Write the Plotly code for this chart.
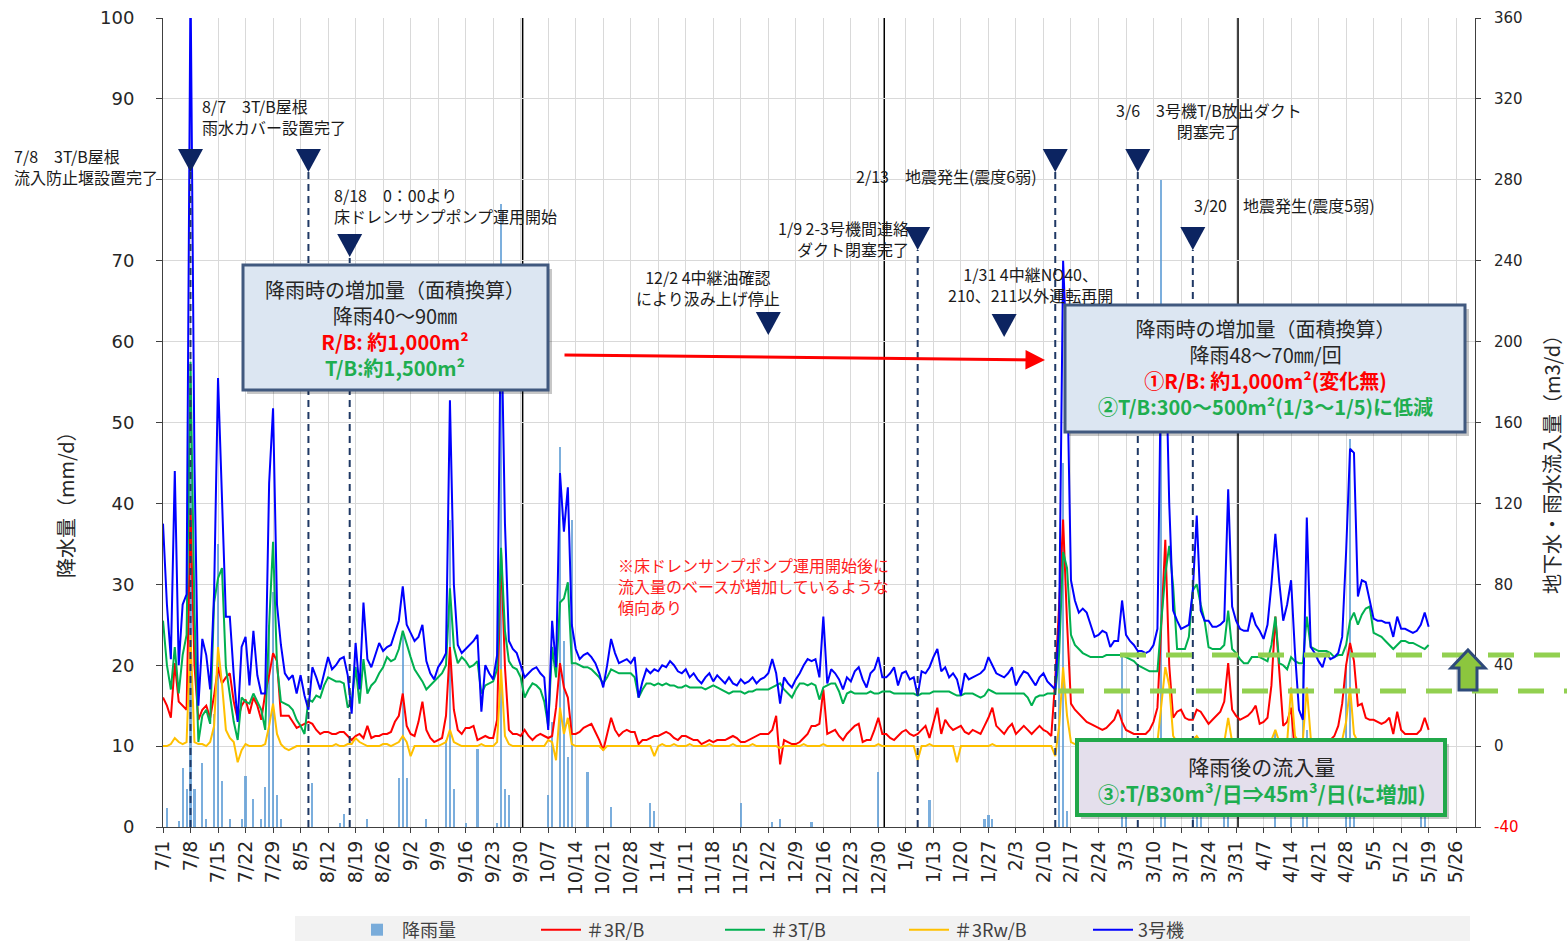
import pandas as pd
import plotly.graph_objects as go

START = "2020-07-01"

# ---------------- data (daily, 2020-07-01 .. 2021-05-19), m3/d ----------------
unit3 = [
    # Jul
    110, 70, 43, 136, 40, 70, 75, 380, 140, 20, 53, 45, 28, 76, 182, 125, 64, 64, 35, 12, 49, 54, 30, 57, 35, 26, 26, 130, 167, 70, 50,
    # Aug
    36, 33, 35, 26, 35, 25, 18, 39, 34, 28, 36, 44, 38, 40, 43, 44, 35, 16, 51, 28, 71, 43, 39, 45, 51, 47, 49, 50, 56, 62, 79,
    # Sep
    60, 56, 52, 54, 60, 42, 36, 33, 39, 42, 46, 171, 80, 50, 46, 48, 50, 52, 55, 17, 40, 36, 33, 45, 220, 110, 52, 48, 46, 40,
    # Oct
    34, 36, 38, 39, 36, 34, 8, 62, 39, 135, 106, 128, 60, 48, 43, 45, 46, 44, 41, 36, 29, 40, 53, 46, 41, 42, 43, 41, 44, 24, 32,
    # Nov
    38, 36, 38, 37, 40, 39, 42, 40, 37, 36, 38, 34, 36, 33, 31, 34, 36, 32, 35, 33, 31, 34, 31, 30, 33, 31, 32, 34, 31, 33,
    # Dec
    34, 36, 43, 36, 21, 34, 31, 29, 33, 36, 40, 43, 42, 43, 34, 64, 31, 38, 36, 33, 28, 34, 32, 37, 39, 33, 29, 36, 38, 44, 34,
    # Jan
    34, 36, 39, 30, 36, 37, 33, 34, 25, 37, 36, 39, 44, 48, 37, 39, 34, 36, 33, 25, 36, 33, 34, 35, 36, 38, 44, 40, 36, 35, 34,
    # Feb
    36, 39, 30, 34, 37, 36, 33, 30, 34, 36, 32, 30, 28, 62, 240, 190, 82, 72, 66, 68, 66, 60, 54, 55, 57, 56, 49, 52,
    # Mar
    52, 72, 55, 52, 50, 47, 47, 46, 47, 50, 58, 200, 205, 120, 67, 62, 58, 59, 60, 77, 114, 67, 62, 62, 59, 59, 60, 62, 127, 69, 62,
    # Apr
    58, 57, 57, 66, 60, 57, 53, 60, 80, 105, 81, 62, 70, 82, 46, 18, 13, 113, 49, 46, 42, 39, 46, 43, 44, 46, 54, 96, 147, 145,
    # May
    74, 82, 81, 72, 63, 62, 62, 61, 61, 54, 64, 58, 58, 57, 56, 57, 60, 66, 59,
]

tb = [
    62, 40, 28, 49, 26, 45, 55, 190, 66, 2, 15, 18, 11, 71, 83, 88, 39, 26, 12, 3, 24, 22, 21, 26, 22, 18, 8, 60, 101, 40, 22,
    21, 20, 18, 13, 10, 6, 23, 22, 25, 24, 30, 34, 33, 32, 32, 31, 19, 22, 39, 21, 43, 26, 30, 32, 36, 39, 44, 42, 43, 48, 57,
    50, 44, 38, 35, 32, 28, 30, 32, 34, 36, 40, 78, 49, 41, 44, 42, 39, 40, 42, 26, 30, 31, 32, 38, 98, 57, 42, 39, 38, 34,
    24, 28, 31, 30, 28, 22, 10, 49, 34, 71, 73, 81, 41, 41, 40, 39, 39, 38, 36, 34, 31, 34, 38, 37, 36, 36, 36, 36, 34, 24, 28,
    31, 31, 30, 31, 30, 31, 30, 30, 29, 29, 30, 29, 29, 29, 29, 28, 29, 30, 29, 28, 27, 26, 27, 27, 27, 26, 27, 27, 28, 28,
    28, 28, 29, 30, 31, 28, 26, 24, 28, 31, 31, 30, 31, 30, 23, 29, 30, 31, 31, 27, 21, 26, 27, 26, 26, 26, 26, 27, 26, 26, 27,
    27, 27, 26, 26, 26, 26, 26, 26, 25, 26, 26, 26, 27, 27, 27, 27, 27, 26, 25, 25, 26, 26, 26, 25, 24, 25, 28, 27, 26, 26, 26,
    26, 26, 26, 26, 26, 24, 20, 24, 25, 25, 26, 26, 26, 46, 96, 88, 55, 50, 48, 46, 45, 44, 44, 44, 44, 45, 45, 45,
    45, 45, 44, 43, 42, 40, 39, 38, 37, 37, 37, 62, 85, 99, 79, 48, 48, 48, 54, 77, 80, 70, 62, 49, 48, 48, 48, 50, 67, 48, 46,
    43, 41, 41, 44, 44, 44, 43, 42, 50, 64, 41, 40, 38, 44, 42, 41, 41, 64, 49, 48, 47, 47, 47, 46, 44, 45, 45, 50, 62, 66,
    60, 65, 68, 69, 56, 55, 54, 52, 50, 48, 50, 52, 52, 51, 51, 50, 49, 48, 50,
]

rb = [
    24, 20, 14, 41, 22, 20, 18, 117, 40, 13, 18, 20, 14, 25, 39, 31, 34, 36, 22, 13, 20, 23, 16, 24, 20, 13, 26, 35, 46, 42, 15,
    15, 15, 12, 9, 10, 11, 12, 11, 8, 6, 7, 7, 6, 6, 7, 7, 5, 3, 5, 6, 4, 10, 4, 5, 5, 6, 6, 7, 12, 15, 26,
    10, 6, 5, 12, 22, 8, 4, 2, 3, 4, 15, 49, 18, 8, 6, 9, 9, 10, 3, 4, 5, 4, 4, 13, 96, 39, 8, 6, 6, 5,
    8, 5, 3, 5, 6, 5, 4, 5, 19, 41, 29, 24, 6, 6, 7, 9, 10, 11, 7, 3, -2, 6, 14, 8, 5, 7, 8, 7, 7, 1, 3,
    3, 4, 5, 5, 6, 7, 6, 4, 3, 5, 5, 4, 3, 3, 1, 2, 3, 2, 3, 3, 3, 4, 5, 4, 2, 2, 3, 4, 5, 6,
    6, 6, 8, 15, -9, 3, 2, 1, 1, 2, 4, 6, 10, 10, 11, 28, 6, 7, 8, 5, 3, 6, 8, 10, 11, 2, 3, 3, 8, 14, 6,
    6, 4, 3, 5, 7, 8, 6, 5, 6, 8, 10, 4, 12, 19, 6, 13, 10, 8, 9, 10, 7, 6, 8, 7, 6, 10, 14, 19, 10, 8, 6,
    9, 11, 6, 8, 10, 8, 6, 8, 10, 8, 7, 5, 33, 70, 112, 61, 21, 18, 16, 14, 12, 11, 10, 9, 8, 9, 11, 13,
    18, 12, 8, 7, 6, 6, 6, 6, 8, 12, 19, 60, 102, 40, 14, 17, 18, 14, 13, 13, 18, 17, 14, 11, 13, 15, 17, 22, 41, 18, 15,
    13, 14, 15, 17, 20, 11, 12, 14, 30, 64, 37, 10, 12, 19, -4, -12, -14, -6, -10, -6, -3, 0, 2, 3, 5, 10, 21, 40, 51, 42,
    20, 21, 14, 13, 13, 12, 11, 12, 14, 6, 17, 8, 6, 6, 6, 6, 8, 14, 8,
]

rwb = [
    0, 0, 1, 4, 2, 1, 2, 55, 2, 1, 1, 0, 2, 10, 49, 31, 8, 4, 2, -8, -2, 1, 0, 0, 0, 0, 1, 10, 21, 6, 1,
    -1, -2, -1, 0, 0, 0, 0, 0, 0, 0, 0, 0, 0, 1, 0, 0, 1, 1, 4, 2, 1, 0, 0, 0, 0, 1, 1, 0, 1, 2, 5,
    2, -5, 0, 0, 0, 0, 0, 0, 0, 1, 2, 8, 2, 1, 0, 0, 0, 0, 0, 1, 0, 0, 0, 2, 38, 5, 1, 0, 0, 0,
    0, 0, 0, 0, 0, 0, 3, 2, -7, 19, 6, 14, 1, 0, 0, 0, 0, 0, 0, 0, -2, 0, 0, 0, 0, 0, 0, 0, 0, 0, 0,
    0, 0, -5, 0, 1, 0, 0, 1, 0, 0, 0, 1, 0, 0, 0, 0, 1, 0, 0, 0, 0, 0, 1, 0, 0, 0, 0, 1, 0, 0,
    0, 0, 0, 0, -1, 0, 0, 0, 0, 0, 1, 0, 0, 0, 0, 1, 0, 0, 0, 0, 0, 0, 0, 0, 0, 0, 0, 0, 0, 1, 0,
    0, 0, 0, 0, 0, 0, 0, 0, -7, 0, 0, 1, 0, 0, 0, 0, 0, 0, -8, 0, 0, 0, 0, 0, 0, 0, 0, 1, 0, 0, 0,
    0, 0, 0, 0, 0, 0, 0, 0, 0, 0, 0, 0, -5, 10, 39, 15, 2, 1, 1, 1, 1, 1, 1, 1, 1, 1, 1, 1,
    1, 3, 1, 1, 1, 1, 1, 1, 1, 1, 2, 20, 39, 30, 5, 2, 1, 1, 1, 3, 5, 2, 1, 1, 1, 1, 1, 2, 14, 2, 1,
    1, 1, 1, 1, 2, 1, 1, 1, 3, 8, 2, 1, 2, 29, 5, 2, 3, 29, 4, 1, 1, 1, 1, 1, 1, 1, 3, 12, 29, 6,
    2, 1, 1, 1, 1, 1, 1, 1, 1, 1, 1, 1, 1, 1, 1, 1, 2, 3, 1,
]

# rainfall (mm/d)
rain_dates = [
    "2020-07-02", "2020-07-05", "2020-07-06", "2020-07-07", "2020-07-08", "2020-07-09", "2020-07-11", "2020-07-12",
    "2020-07-14", "2020-07-15", "2020-07-16", "2020-07-18", "2020-07-21", "2020-07-22", "2020-07-24", "2020-07-26",
    "2020-07-27", "2020-07-28", "2020-07-29", "2020-07-30", "2020-07-31", "2020-08-08", "2020-08-15", "2020-08-16",
    "2020-08-22", "2020-08-30", "2020-08-31", "2020-09-01", "2020-09-06", "2020-09-11", "2020-09-12", "2020-09-13",
    "2020-09-16", "2020-09-19", "2020-09-24", "2020-09-25", "2020-09-26", "2020-09-27",
    "2020-10-07", "2020-10-08", "2020-10-10", "2020-10-11", "2020-10-12", "2020-10-13", "2020-10-17", "2020-10-23",
    "2020-11-02", "2020-11-03", "2020-11-25", "2020-12-03", "2020-12-05", "2020-12-13", "2020-12-30",
    "2021-01-12", "2021-01-26", "2021-01-27", "2021-01-28", "2021-02-14", "2021-02-15", "2021-02-16",
    "2021-03-02", "2021-03-03", "2021-03-12", "2021-03-13", "2021-03-20", "2021-03-21", "2021-03-22", "2021-03-28",
    "2021-03-29", "2021-04-10", "2021-04-14", "2021-04-17", "2021-04-18", "2021-04-28", "2021-04-29", "2021-04-30",
    "2021-05-17", "2021-05-18",
]
rain_mm = [
    2.3, 0.8, 7.3, 4.7, 45, 4.7, 7.9, 1,
    14, 35, 5.7, 1, 1, 6.3, 3.4, 1,
    5, 25, 29, 4, 1, 5.4, 0.5, 1.6,
    1, 6, 24, 6, 1, 10.7, 38, 4.7,
    0.5, 9.6, 0.5, 77, 4.7, 4,
    4, 13, 47, 23, 8.6, 38, 6.8, 2.5,
    3, 2, 3, 0.6, 1, 0.6, 6.8,
    3.3, 1, 1.5, 1, 25, 45, 2,
    21, 2, 80, 10, 3, 10, 2, 8,
    4, 12, 8, 20, 12, 20, 48, 5,
    8, 10,
]

# event dates (triangles)
event_dates = ["2020-07-08", "2020-08-07", "2020-08-17 12:00", "2020-12-02", "2021-01-09",
               "2021-01-31", "2021-02-13", "2021-03-06", "2021-03-20"]

# ---------------- layout helpers ----------------
W, H = 1567, 941
PL, PR, PT, PB = 163, 1475, 18, 827


def px(X):
    return (X - PL) / (PR - PL)


def py(Y):
    return (PB - Y) / (PB - PT)


JP = "Noto Sans CJK JP, Noto Sans, sans-serif"
NUM = "DejaVu Sans, sans-serif"

dates = pd.date_range(START, periods=len(unit3), freq="D")

fig = go.Figure()
fig.add_trace(go.Bar(x=pd.to_datetime(rain_dates), y=rain_mm, name="降雨量", yaxis="y",
                     marker=dict(color="#5b9bd5", line_width=0), opacity=0.8,
                     width=0.55 * 86400000))
fig.add_trace(go.Scatter(x=dates, y=rb, name="＃3R/B", mode="lines", yaxis="y2",
                         line=dict(color="#ff0000", width=2)))
fig.add_trace(go.Scatter(x=dates, y=tb, name="＃3T/B", mode="lines", yaxis="y2",
                         line=dict(color="#00b050", width=2)))
fig.add_trace(go.Scatter(x=dates, y=rwb, name="＃3Rw/B", mode="lines", yaxis="y2",
                         line=dict(color="#ffc000", width=2)))
fig.add_trace(go.Scatter(x=dates, y=unit3, name="3号機", mode="lines", yaxis="y2",
                         line=dict(color="#0000ff", width=2)))

shapes = []
# legend band
shapes.append(dict(type="rect", xref="paper", yref="paper", x0=px(295), x1=px(1470), y0=py(941), y1=py(916),
                   fillcolor="#f2f2f2", line=dict(width=0), layer="below"))
# black period separators
for d in ["2020-09-30 12:00", "2020-12-31 12:00", "2021-03-31 12:00"]:
    shapes.append(dict(type="line", xref="x", yref="paper", x0=d, x1=d, y0=0, y1=1,
                       line=dict(color="#000000", width=1.5), layer="between"))

# event triangles and dashed lines
tri_center_y = [160, 160, 245, 323, 238, 325, 160, 160, 238]
dash_top_y = [172, 172, 258, None, 250, None, 172, 172, 250]
for d, cy, ty in zip(event_dates, tri_center_y, dash_top_y):
    if ty is not None:
        shapes.append(dict(type="line", xref="x", yref="paper", x0=d, x1=d, y0=0, y1=py(ty),
                           line=dict(color="#1f3864", width=2, dash="7px,5px"), layer="above"))
    shapes.append(dict(type="path", xref="x", yref="paper", xsizemode="pixel", ysizemode="pixel",
                       xanchor=d, yanchor=py(cy), path="M-12.5,11 L12.5,11 L0,-12 Z",
                       fillcolor="#0c2461", line=dict(width=0), layer="above"))

# green dashed reference lines (30 and 45 m3/d)
shapes.append(dict(type="line", xref="paper", yref="paper", x0=px(1120), x1=px(1567), y0=py(655), y1=py(655),
                   line=dict(color="#92d050", width=5, dash="26px,20px"), layer="above"))
shapes.append(dict(type="line", xref="paper", yref="paper", x0=px(1058), x1=px(1567), y0=py(691), y1=py(691),
                   line=dict(color="#92d050", width=5, dash="26px,20px"), layer="above"))


# info boxes (shadow + box)
def box(x0, y0, x1, y1, fill, border, bw):
    shapes.append(dict(type="rect", xref="paper", yref="paper", x0=px(x0 + 4), x1=px(x1 + 4), y0=py(y1 + 4), y1=py(y0 + 4),
                       fillcolor="rgba(0,0,0,0.22)", line=dict(width=0), layer="above"))
    shapes.append(dict(type="rect", xref="paper", yref="paper", x0=px(x0), x1=px(x1), y0=py(y1), y1=py(y0),
                       fillcolor=fill, line=dict(color=border, width=bw), layer="above"))


box(243, 265, 548, 390, "#dce6f2", "#41597f", 3)
box(1065, 305, 1465, 432, "#dce6f2", "#41597f", 3)
box(1077, 740, 1445, 815, "#e4dfec", "#21a84a", 4)

# green up arrow
pts = [(1468, 650), (1485, 668), (1477, 668), (1477, 690), (1459, 690), (1459, 668), (1451, 668)]
path = "M" + " L".join(f"{px(a):.5f},{py(b):.5f}" for a, b in pts) + " Z"
shapes.append(dict(type="path", xref="paper", yref="paper", path=path, fillcolor="#8cc63e",
                   line=dict(color="#2e4a7a", width=3), layer="above"))

ann = []


def txt(s, X, Y, anchor="left", size=16, color="#1a1a1a", align=None):
    ann.append(dict(text=s, x=px(X), y=py(Y), xref="paper", yref="paper", xanchor=anchor, yanchor="middle",
                    align=align or anchor, showarrow=False,
                    font=dict(size=size, color=color, family=JP), borderpad=0))


RED, GRN = "#ff0000", "#1fae50"


def col(s, c):
    return f'<span style="color:{c}">{s}</span>'


# event labels
txt("8/7　3T/B屋根<br>雨水カバー設置完了", 201, 117)
txt("7/8　3T/B屋根<br>流入防止堰設置完了", 13, 166)
txt("8/18　0：00より<br>床ドレンサンプポンプ運用開始", 333, 205)
txt("12/2 4中継油確認<br>により汲み上げ停止", 708, 287, anchor="center")
txt("1/9 2-3号機間連絡<br>ダクト閉塞完了", 910, 239, anchor="right")
txt("2/13　地震発生(震度6弱)", 855, 176)
txt("1/31 4中継NO40、<br>210、211以外運転再開", 1030, 285, anchor="center")
txt("3/6　3号機T/B放出ダクト<br>閉塞完了", 1209, 121, anchor="center")
txt("3/20　地震発生(震度5弱)", 1193, 205)

# red note
txt("※床ドレンサンプポンプ運用開始後に<br>流入量のベースが増加しているような<br>傾向あり",
    617, 586, color="#ff2020")

# box texts
txt("降雨時の増加量（面積換算）<br>降雨40～90㎜<br>" + col("<b>R/B: 約1,000m²</b>", RED) + "<br>"
    + col("<b>T/B:約1,500m²</b>", GRN), 395, 328, anchor="center", size=20, color="#262626")
txt("降雨時の増加量（面積換算）<br>降雨48～70㎜/回<br>" + col("<b>①R/B: 約1,000m²(変化無)</b>", RED) + "<br>"
    + col("<b>②T/B:300～500m²(1/3～1/5)に低減</b>", GRN), 1265, 367, anchor="center", size=20, color="#262626")
txt("降雨後の流入量<br>" + col("<b>③:T/B30m³/日⇒45m³/日(に増加)</b>", GRN), 1262, 779,
    anchor="center", size=21, color="#262626")

# axis titles
ann.append(dict(text="降水量（mm/d）", x=px(65), y=py(500), xref="paper", yref="paper", textangle=-90,
                xanchor="center", yanchor="middle",
                showarrow=False, font=dict(size=20, color="#262626", family=JP)))
ann.append(dict(text="地下水・雨水流入量（m3/d）", x=px(1551), y=py(460), xref="paper", yref="paper", textangle=-90,
                xanchor="center", yanchor="middle",
                showarrow=False, font=dict(size=20, color="#262626", family=JP)))

# red arrow
ann.append(dict(text="", x=px(1045), y=py(360), xref="paper", yref="paper", ax=563 - 1045, ay=355 - 360,
                axref="pixel", ayref="pixel", showarrow=True, arrowhead=2, arrowsize=1.3, arrowwidth=3,
                arrowcolor="#ff0000"))

left_vals = list(range(0, 101, 10))
left_text = ["" if v == 80 else str(v) for v in left_vals]
right_vals = list(range(-40, 361, 40))
right_text = ['<span style="color:#ff0000">-40</span>' if v == -40 else str(v) for v in right_vals]

fig.update_layout(
    width=W, height=H, autosize=False,
    margin=dict(l=PL, r=W - PR, t=PT, b=H - PB, autoexpand=False),
    paper_bgcolor="white", plot_bgcolor="white",
    font=dict(family=JP, color="#262626"),
    bargap=0,
    showlegend=True,
    legend=dict(orientation="h", x=px(352), xanchor="left", y=py(930), yanchor="middle",
                entrywidth=129, entrywidthmode="pixels", itemwidth=40, traceorder="normal",
                font=dict(size=18, color="#404040", family=JP), bgcolor="rgba(0,0,0,0)"),
    xaxis=dict(type="date", range=["2020-07-01", "2021-05-30 19:00"], tick0=START, dtick=7 * 86400000,
               tickformat="%-m/%-d", tickangle=-90, tickfont=dict(size=19, color="#262626", family=NUM),
               showgrid=True, gridcolor="#d9d9d9", gridwidth=1, showline=True, linecolor="#404040",
               ticks="outside", ticklen=5, tickcolor="#404040", zeroline=False),
    yaxis=dict(range=[0, 100], tickvals=left_vals, ticktext=left_text,
               tickfont=dict(size=18, color="#262626", family=NUM),
               showgrid=True, gridcolor="#d9d9d9", gridwidth=1, showline=True, linecolor="#404040",
               ticks="outside", ticklen=6, tickcolor="#404040", ticklabelstandoff=18, zeroline=False),
    yaxis2=dict(overlaying="y", side="right", range=[-40, 360], tickvals=right_vals, ticktext=right_text,
                tickfont=dict(size=15, color="#262626", family=NUM),
                showgrid=False, showline=True, linecolor="#404040", ticks="outside", ticklen=5,
                tickcolor="#404040", ticklabelstandoff=10, zeroline=False),
    shapes=shapes,
    annotations=ann,
)

fig.write_html("out.html", config={"displayModeBar": False},
               post_script="document.body.style.margin='0';")
